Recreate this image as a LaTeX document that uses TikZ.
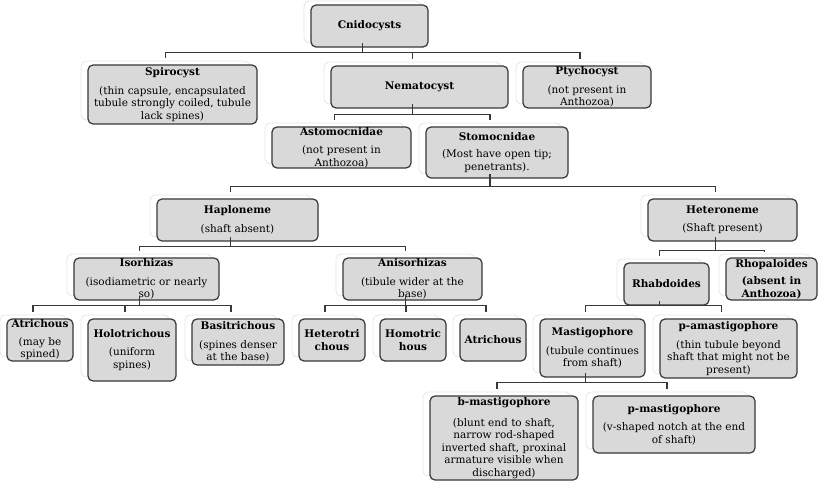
\documentclass[tikz,border=0pt]{standalone}
\usepackage{fontspec}
\setmainfont{DejaVu Serif}
\usetikzlibrary{calc}
\definecolor{boxfill}{HTML}{D9D9D9}
\definecolor{edgecol}{HTML}{383838}
\tikzset{
 card/.style={draw=black!9, fill=white, rounded corners=5pt, line width=0.9pt, inner sep=0pt},
 gbox/.style={draw=edgecol, fill=boxfill, rounded corners=5pt, line width=1.2pt, inner sep=0pt},
 lbl/.style={align=center, inner sep=0pt, font=\fontsize{10.5}{12.5}\selectfont, text=black},
 conn/.style={draw=edgecol, line width=1.1pt, shorten >=3pt},
}
\newcommand\cbox[6]{%
 \node[card, minimum width=#4pt, minimum height=#5pt] (#1) at (#2-7,#3-4) {};
 \node[gbox, minimum width=#4pt, minimum height=#5pt] (#1g) at (#2,#3) {};
 \node[lbl] (#1t) at (#2,#3) {#6};
}
\begin{document}
\begin{tikzpicture}[x=1pt,y=-1pt]
\useasboundingbox[fill=white] (0,0) rectangle (830,492);
\cbox{cnid}{369.5}{26}{117}{42}{\textbf{Cnidocysts}}
\cbox{spiro}{172.5}{94.5}{169}{59}{\textbf{Spirocyst}\\[6pt](thin capsule, encapsulated\\tubule strongly coiled, tubule\\lack spines)}
\cbox{nema}{419.5}{87}{177}{42}{\textbf{Nematocyst}}
\cbox{ptych}{587}{87}{128}{42}{\textbf{Ptychocyst}\\[6pt](not present in\\Anthozoa)}
\cbox{asto}{341.5}{147.5}{139}{41}{\textbf{Astomocnidae}\\[6pt](not present in\\Anthozoa)}
\cbox{stomo}{497}{152.5}{142}{51}{\textbf{Stomocnidae}\\[5pt](Most have open tip;\\penetrants).}
\cbox{haplo}{237.5}{220}{161}{42}{\textbf{Haploneme}\\[6pt](shaft absent)}
\cbox{hetero}{722.5}{220}{149}{42}{\textbf{Heteroneme}\\[6pt](Shaft present)}
\cbox{iso}{146.5}{279}{145}{42}{\textbf{Isorhizas}\\[6pt](isodiametric or nearly\\so)}
\cbox{aniso}{412.5}{279}{139}{42}{\textbf{Anisorhizas}\\[6pt](tibule wider at the\\base)}
\cbox{rhab}{666.5}{284}{85}{42}{\textbf{Rhabdoides}}
\cbox{rhop}{771.5}{279}{91}{42}{\textbf{Rhopaloides}\\[5pt]\textbf{(absent in}\\\textbf{Anthozoa)}}
\cbox{atri}{40}{340}{66}{42}{\textbf{Atrichous}\\[5pt](may be\\spined)}
\cbox{holo}{132}{350}{88}{62}{\textbf{Holotrichous}\\[6pt](uniform\\spines)}
\cbox{basi}{238}{342}{92}{46}{\textbf{Basitrichous}\\[6pt](spines denser\\at the base)}
\cbox{hetri}{332}{340}{66}{42}{\textbf{Heterotri}\\\textbf{chous}}
\cbox{homo}{413}{340}{66}{42}{\textbf{Homotric}\\\textbf{hous}}
\cbox{atrib}{493}{340}{66}{42}{\textbf{Atrichous}}
\cbox{mast}{592.5}{348}{105}{58}{\textbf{Mastigophore}\\[6pt](tubule continues\\from shaft)}
\cbox{pamast}{728.5}{348.5}{137}{59}{\textbf{p-amastigophore}\\[6pt](thin tubule beyond\\shaft that might not be\\present)}
\cbox{bmast}{504}{438}{148}{84}{\textbf{b-mastigophore}\\[8pt](blunt end to shaft,\\narrow rod-shaped\\inverted shaft, proxinal\\armature visible when\\discharged)}
\cbox{pmast}{674}{424.5}{162}{57}{\textbf{p-mastigophore}\\[6pt](v-shaped notch at the end\\of shaft)}
% bus levels
\coordinate (b1) at (0,52.5);
\coordinate (b2) at (0,114.5);
\coordinate (b3) at (0,186.5);
\coordinate (b4) at (0,246.5);
\coordinate (b5) at (0,305.5);
\coordinate (b6) at (0,305.5);
\coordinate (b7) at (0,250.5);
\coordinate (b8) at (0,305.5);
\coordinate (b9) at (0,382.5);
\foreach \c in {spiro,nema,ptych} \draw[conn] (cnid.south) |- (\c.north |- b1) -- (\c.north);
\foreach \c in {asto,stomo} \draw[conn] (nema.south) |- (\c.north |- b2) -- (\c.north);
\foreach \c in {haplo,hetero} \draw[conn] (stomo.south) |- (\c.north |- b3) -- (\c.north);
\foreach \c in {iso,aniso} \draw[conn] (haplo.south) |- (\c.north |- b4) -- (\c.north);
\foreach \c in {atri,holo,basi} \draw[conn] (iso.south) |- (\c.north |- b5) -- (\c.north);
\foreach \c in {hetri,homo,atrib} \draw[conn] (aniso.south) |- (\c.north |- b6) -- (\c.north);
\foreach \c in {rhab,rhop} \draw[conn] (hetero.south) |- (\c.north |- b7) -- (\c.north);
\foreach \c in {mast,pamast} \draw[conn] (rhab.south) |- (\c.north |- b8) -- (\c.north);
\foreach \c in {bmast,pmast} \draw[conn] (mast.south) |- (\c.north |- b9) -- (\c.north);
\end{tikzpicture}
\end{document}
